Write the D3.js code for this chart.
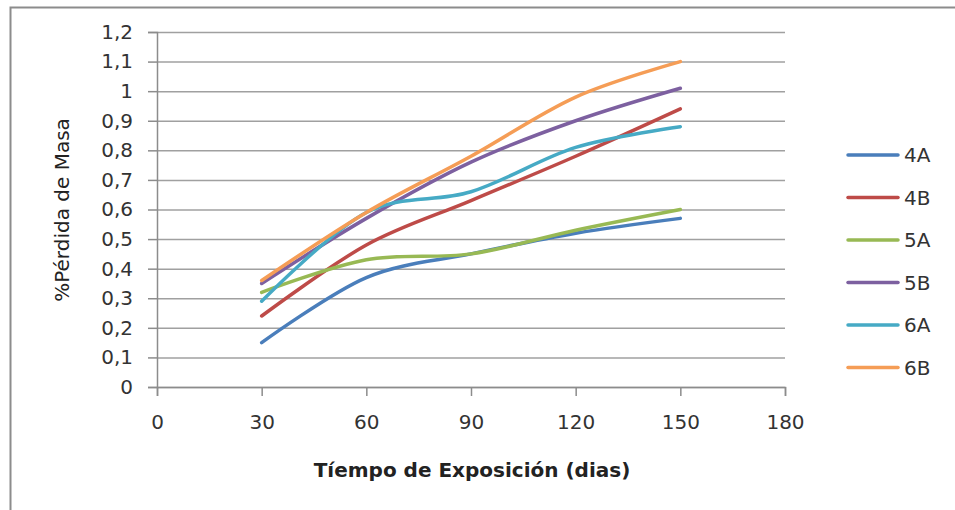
<!doctype html>
<html>
<head>
<meta charset="utf-8">
<style>
    body { margin: 0; background: #fff; }
</style>
</head>
<body>

<div id="container"></div>

<script src="https://d3js.org/d3.v7.min.js"></script>
<script type="text/javascript">

    // data
    var days = [30, 60, 90, 120, 150];
    var s4A = [0.15, 0.37, 0.45, 0.52, 0.57];
    var s4B = [0.24, 0.48, 0.63, 0.78, 0.94];
    var s5A = [0.32, 0.43, 0.45, 0.53, 0.60];
    var s5B = [0.35, 0.57, 0.76, 0.90, 1.01];
    var s6A = [0.29, 0.59, 0.66, 0.81, 0.88];
    var s6B = [0.36, 0.59, 0.78, 0.98, 1.10];
    var seriesNames = ["4A", "4B", "5A", "5B", "6A", "6B"];
    var xTicks = [0, 30, 60, 90, 120, 150, 180];
    var yTicks = [0, 0.1, 0.2, 0.3, 0.4, 0.5, 0.6, 0.7, 0.8, 0.9, 1, 1.1, 1.2];

    var width = 955, height = 510;
    var margin = {top: 32, right: 170, bottom: 123, left: 157};
    var innerwidth = width - margin.left - margin.right;   // 628
    var innerheight = height - margin.top - margin.bottom; // 355

    var colors = ["#4a7ebb", "#be4b48", "#98b954", "#7d60a0", "#46aac5", "#f59d56"];
    var datasets = [s4A, s4B, s5A, s5B, s6A, s6B].map(function (vals, i) {
        return {label: seriesNames[i], values: d3.zip(days, vals)};
    });

    var svg = d3.select("#container").append("svg")
        .attr("width", width)
        .attr("height", height)
        .style("font-family", "'DejaVu Sans', sans-serif");

    // outer chart frame
    svg.append("rect")
        .attr("x", 10.5).attr("y", 7.5)
        .attr("width", width + 20).attr("height", height + 20)
        .attr("fill", "#fff")
        .attr("stroke", "#8c8c8c")
        .attr("stroke-width", 2);

    var x_scale = d3.scaleLinear().domain([0, 180]).range([0, innerwidth]);
    var y_scale = d3.scaleLinear().domain([0, 1.2]).range([innerheight, 0]);
    var fmt = function (d) { return d3.format("~g")(+d.toFixed(1)).replace(".", ","); };

    var g = svg.append("g")
        .attr("transform", "translate(" + margin.left + "," + margin.top + ")");

    // horizontal grid
    g.append("g")
        .attr("class", "y grid")
        .call(d3.axisLeft(y_scale).tickValues(yTicks).tickSize(-innerwidth).tickFormat(""))
        .call(function (s) {
            s.select(".domain").remove();
            s.selectAll("line").attr("stroke", "#a0a0a0").attr("stroke-width", 1.5);
        });

    // y axis
    g.append("g")
        .attr("class", "y axis")
        .call(d3.axisLeft(y_scale).tickValues(yTicks).tickSize(9).tickPadding(15).tickFormat(fmt))
        .call(function (s) {
            s.attr("font-size", null).attr("font-family", null);
            s.select(".domain").attr("stroke", "#8c8c8c").attr("stroke-width", 1.5);
            s.selectAll("line").attr("stroke", "#8c8c8c").attr("stroke-width", 1.5);
            s.selectAll("text").style("font-size", "20px").attr("fill", "#333");
        });

    // x axis
    g.append("g")
        .attr("class", "x axis")
        .attr("transform", "translate(0," + innerheight + ")")
        .call(d3.axisBottom(x_scale).tickValues(xTicks).tickSize(9).tickPadding(19))
        .call(function (s) {
            s.attr("font-size", null).attr("font-family", null);
            s.select(".domain").attr("stroke", "#8c8c8c").attr("stroke-width", 1.5);
            s.selectAll("line").attr("stroke", "#8c8c8c").attr("stroke-width", 1.5);
            s.selectAll("text").style("font-size", "20px").attr("fill", "#333");
        });

    // axis titles
    g.append("text")
        .attr("x", innerwidth / 2 + 1)
        .attr("y", innerheight + 90)
        .attr("text-anchor", "middle")
        .style("font-size", "20px")
        .attr("font-weight", "bold")
        .attr("fill", "#222")
        .text("Tíempo de Exposición (dias)");

    g.append("text")
        .attr("transform", "rotate(-90)")
        .attr("x", -178)
        .attr("y", -88)
        .attr("text-anchor", "middle")
        .style("font-size", "20px")
        .attr("fill", "#222")
        .text("%Pérdida de Masa");

    var draw_line = d3.line()
        .curve(d3.curveCardinal.tension(0))
        .x(function (d) { return x_scale(d[0]); })
        .y(function (d) { return y_scale(d[1]); });

    g.selectAll(".series")
        .data(datasets)
        .enter().append("path")
        .attr("class", "series")
        .attr("d", function (d) { return draw_line(d.values); })
        .attr("fill", "none")
        .attr("stroke", function (_, i) { return colors[i]; })
        .attr("stroke-width", 3.5)
        .attr("stroke-linecap", "round");

    // legend
    var legend = svg.append("g")
        .attr("transform", "translate(848,155)");
    var items = legend.selectAll(".item")
        .data(datasets)
        .enter().append("g")
        .attr("class", "item")
        .attr("transform", function (_, i) { return "translate(0," + (i * 42.5) + ")"; });
    items.append("line")
        .attr("x1", 0).attr("x2", 50)
        .attr("stroke", function (_, i) { return colors[i]; })
        .attr("stroke-width", 3.5)
        .attr("stroke-linecap", "round");
    items.append("text")
        .attr("x", 56)
        .attr("dy", "0.36em")
        .style("font-size", "20px")
        .attr("fill", "#333")
        .text(function (d) { return d.label; });

</script>
</body>
</html>
